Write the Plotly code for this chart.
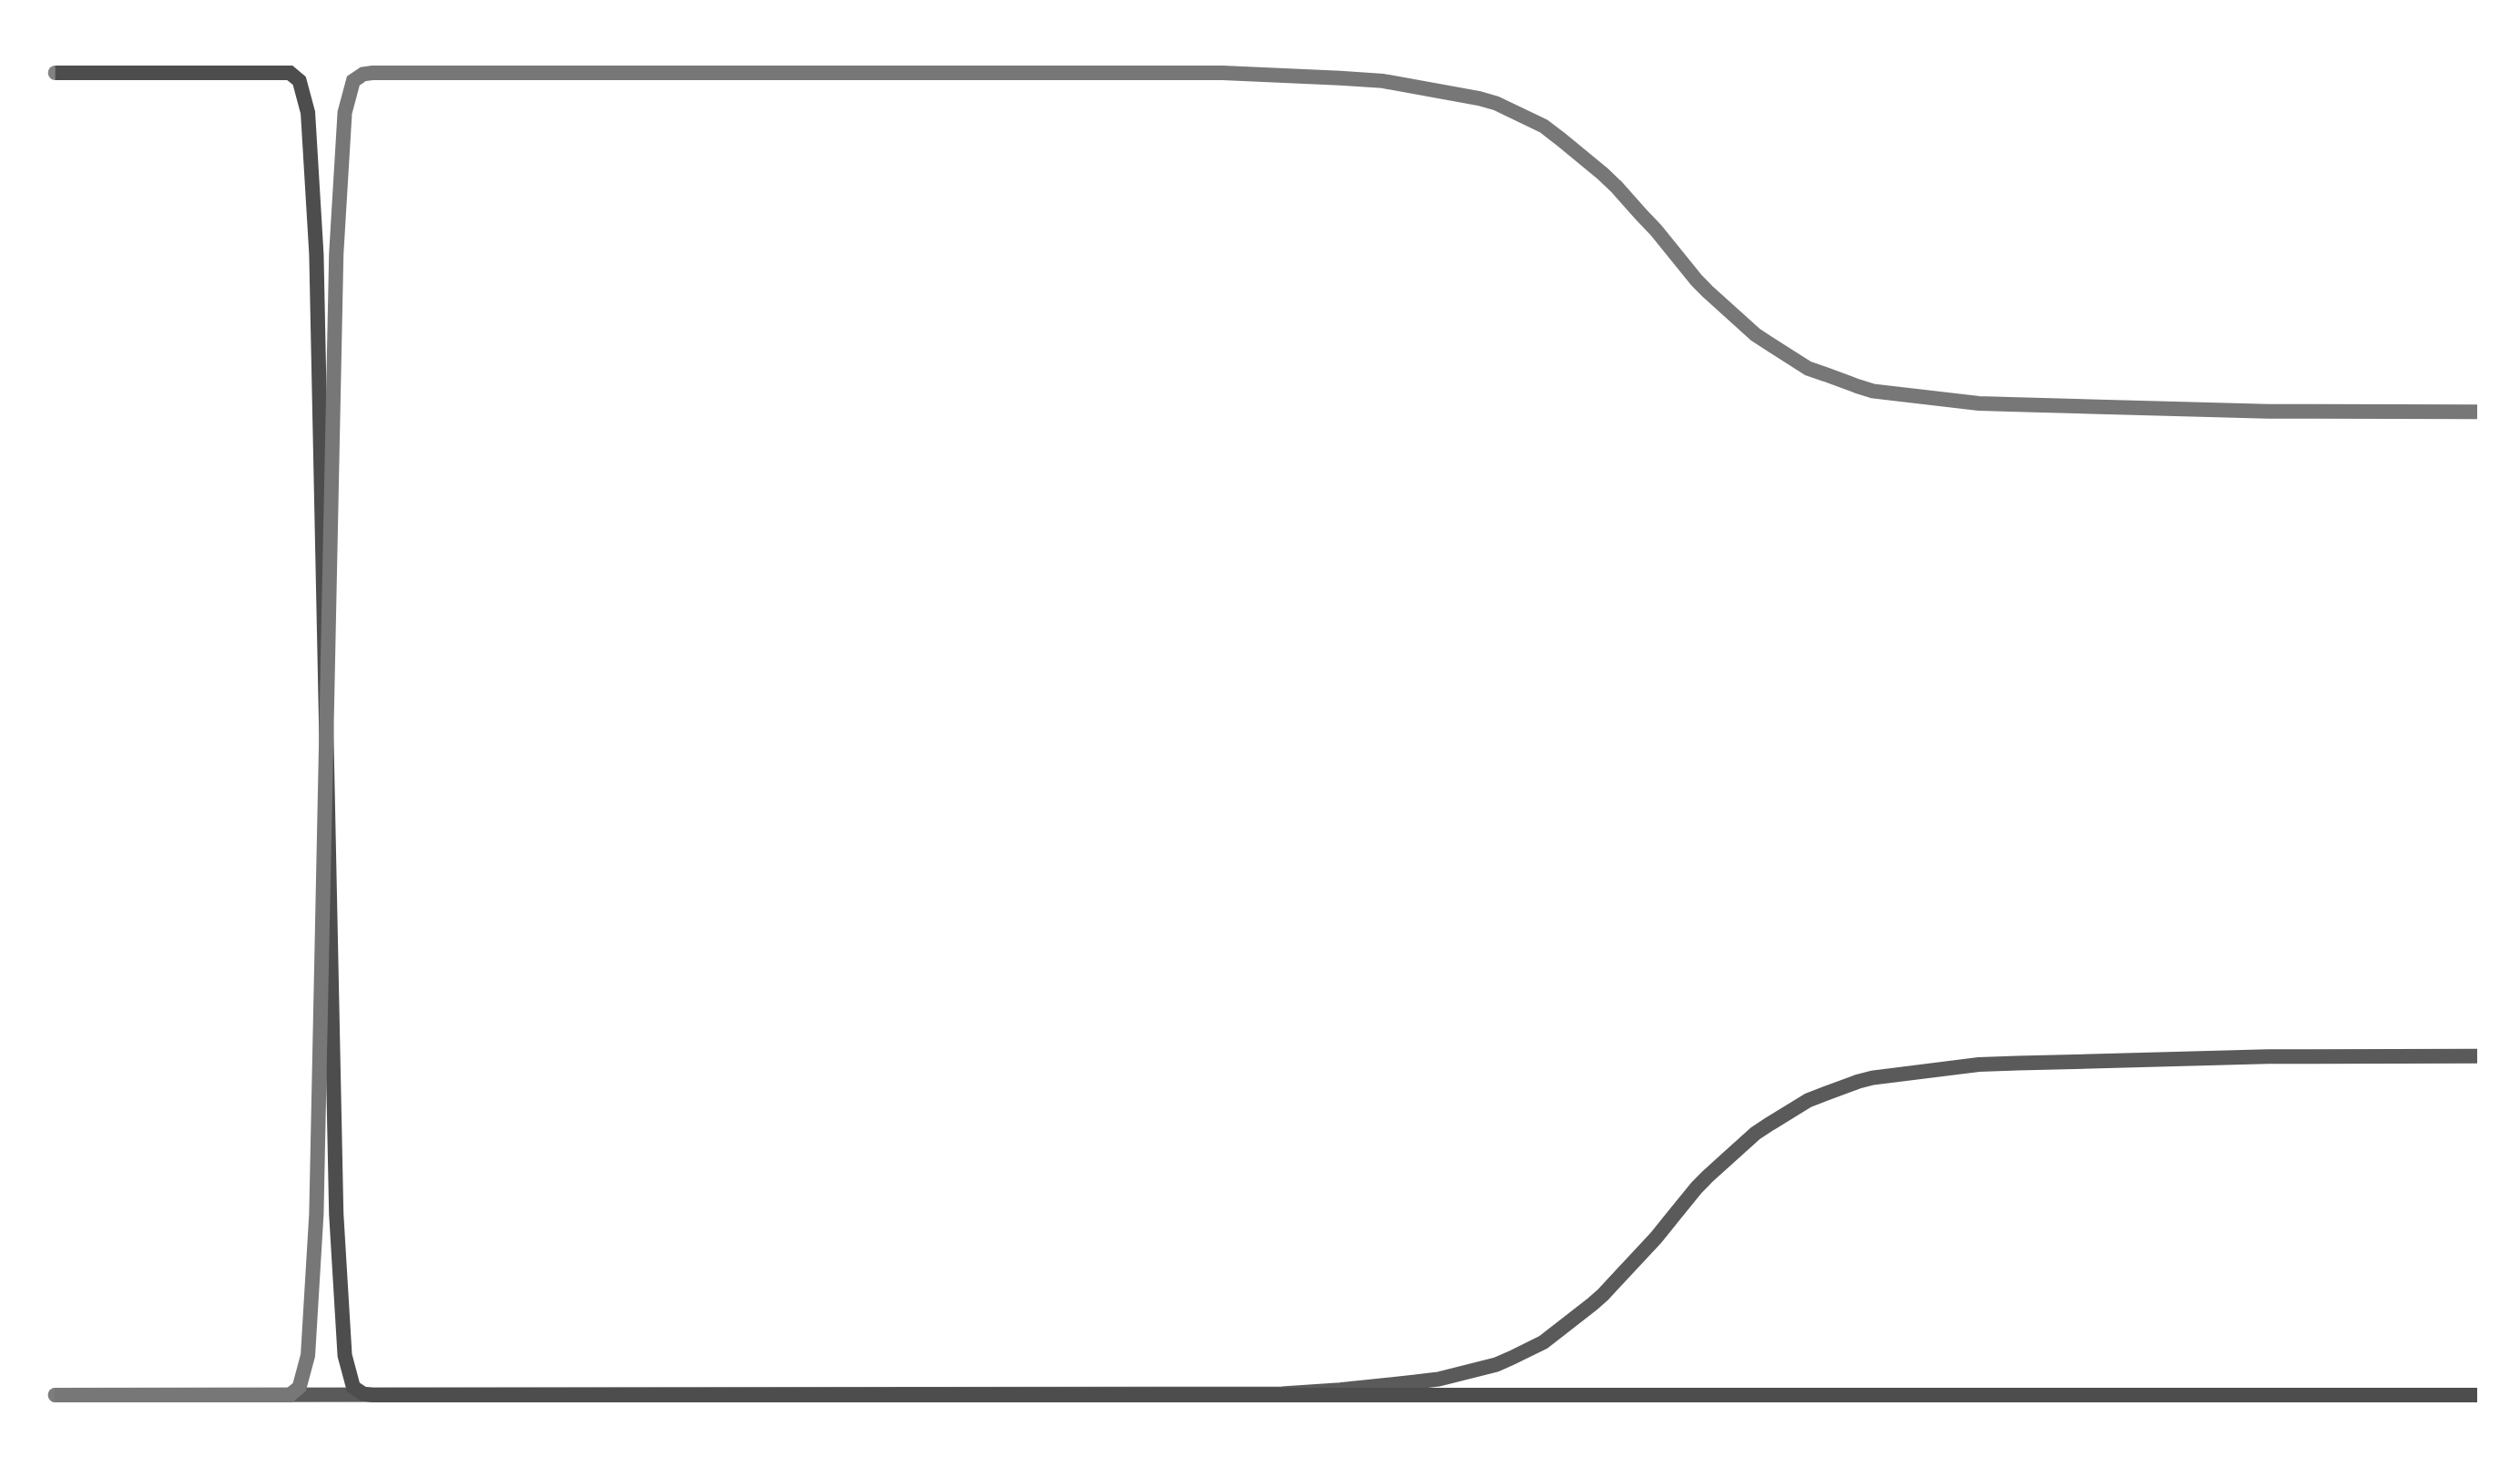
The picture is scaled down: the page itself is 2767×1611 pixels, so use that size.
import plotly.graph_objects as go

# position index (0..256) and fraction of each state
t_a = [0, 24.8, 25.8, 26.7, 27.6, 28.65, 29.7, 30.6, 31.5, 32.55, 33.5, 256]
frac_a = [1.0, 1.0, 0.994, 0.97, 0.863, 0.5, 0.137, 0.03, 0.006, 0.001, 0.0, 0.0]

t_b = [0, 24.8, 25.8, 26.7, 27.6, 28.65, 29.7, 30.6, 31.5, 32.55, 33.5,
       123.4, 126.7, 129.7, 135.8, 140.3, 143.8, 146.2, 148.9, 150.5, 152.3, 153.9,
       155.7, 157.3, 159.1, 160.7, 162.5, 163.6, 165.0, 166.1, 167.6, 169.2, 171.0,
       172.1, 173.5, 174.6, 176.1, 177.1, 178.6, 179.7, 181.2, 182.4, 183.7, 185.3,
       187.1, 188.7, 190.5, 192.1, 194.8, 196.4, 198.2, 200.6, 203.3, 207.4, 211.8,
       215.0, 220.3, 225.2, 233.9, 256]
frac_b = [0.0, 0.0, 0.006, 0.03, 0.137, 0.5, 0.863, 0.97, 0.994, 0.999, 1.0,
          1.0, 0.9994, 0.999, 0.996, 0.9939, 0.990, 0.9878, 0.984, 0.9806, 0.977, 0.9721,
          0.966, 0.9599, 0.950, 0.9417, 0.931, 0.9235, 0.914, 0.904, 0.893, 0.881, 0.864,
          0.854, 0.843, 0.835, 0.825, 0.8165, 0.808, 0.802, 0.795, 0.7886, 0.783, 0.7764,
          0.772, 0.7667, 0.763, 0.7594, 0.757, 0.7546, 0.753, 0.7509, 0.750, 0.7491, 0.748,
          0.7467, 0.745, 0.7448, 0.744, 0.7436]

t_c = [0, 123.4, 126.7, 129.7, 135.8, 140.3, 143.8, 146.2, 148.9, 150.5, 152.3, 153.9,
       155.7, 157.3, 159.1, 160.7, 162.5, 163.6, 165.0, 166.1, 167.6, 169.2, 171.0,
       172.1, 173.5, 174.6, 176.1, 177.1, 178.6, 179.7, 181.2, 182.4, 183.7, 185.3,
       187.1, 188.7, 190.5, 192.1, 194.8, 196.4, 198.2, 200.6, 203.3, 207.4, 211.8,
       215.0, 220.3, 225.2, 233.9, 256]
frac_c = [0.0, 0.0, 0.0006, 0.001, 0.004, 0.006, 0.010, 0.012, 0.016, 0.019, 0.023, 0.028,
          0.034, 0.040, 0.050, 0.058, 0.069, 0.076, 0.086, 0.096, 0.107, 0.119, 0.135,
          0.146, 0.157, 0.165, 0.175, 0.183, 0.192, 0.198, 0.205, 0.211, 0.217, 0.223,
          0.228, 0.233, 0.237, 0.240, 0.243, 0.245, 0.247, 0.249, 0.250, 0.251, 0.252,
          0.2533, 0.255, 0.2552, 0.256, 0.2564]

lw = 16

fig = go.Figure()
for t, f, col in [(t_c, frac_c, '#5a5a5a'), (t_a, frac_a, '#4d4d4d'), (t_b, frac_b, '#777777')]:
    fig.add_trace(go.Scatter(
        x=t, y=f,
        mode='lines+markers',
        line=dict(color=col, width=lw),
        # round start cap
        marker=dict(color=col, size=[lw] + [0] * (len(t) - 1), line=dict(width=0)),
        hoverinfo='skip',
    ))

# page body has an 8px margin, so the figure is a bit smaller than the window
fig.update_layout(
    width=2751,
    height=1595,
    margin=dict(l=0, r=0, t=0, b=0),
    paper_bgcolor='white',
    plot_bgcolor='white',
    showlegend=False,
    xaxis=dict(visible=False, range=[-5.073, 259.754]),
    yaxis=dict(visible=False, range=[-0.0489, 1.04959]),
)

fig.write_html("out.html")
